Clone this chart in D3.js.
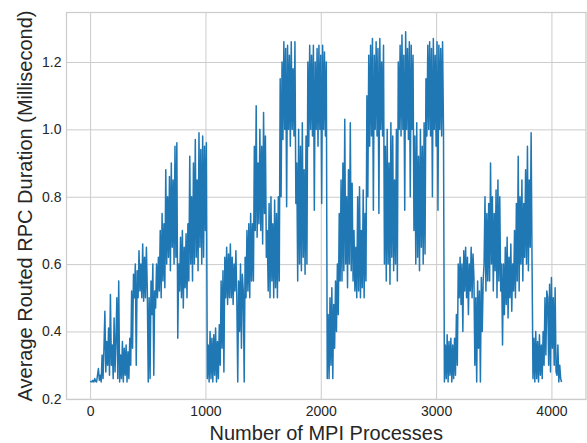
<!DOCTYPE html>
<html>
<head>
<meta charset="utf-8">
<script src="https://cdn.jsdelivr.net/npm/d3@7"></script>
<style>
  body { margin: 0; background: #fff; }
  svg { font-family: "Liberation Sans", Arial, sans-serif; }
</style>
</head>
<body>
<div id="chart"></div>
<script>
// one value every 8 MPI ranks
var rankStep = 8
var durations = [
  0.25,0.252,0.25,0.255,0.25,0.26,0.252,0.25,0.27,0.29,0.255,0.27,0.25,0.33,0.26,0.35,
  0.46,0.28,0.37,0.3,0.41,0.27,0.51,0.3,0.36,0.26,0.44,0.28,0.38,0.5,0.26,0.55,
  0.25,0.33,0.26,0.37,0.25,0.35,0.27,0.36,0.25,0.34,0.26,0.38,0.3,0.52,0.35,0.57,
  0.5,0.6,0.3,0.58,0.5,0.64,0.52,0.6,0.5,0.66,0.49,0.62,0.5,0.65,0.52,0.25,
  0.5,0.26,0.55,0.45,0.6,0.27,0.52,0.47,0.6,0.5,0.62,0.52,0.7,0.5,0.75,0.55,
  0.72,0.53,0.88,0.6,0.8,0.62,0.86,0.58,0.9,0.65,0.85,0.6,0.95,0.62,0.96,0.38,
  0.6,0.52,0.68,0.5,0.7,0.47,0.65,0.53,0.69,0.5,0.72,0.55,0.92,0.6,0.8,0.55,
  0.9,0.6,0.97,0.62,0.85,0.58,0.99,0.65,0.94,0.6,0.98,0.62,0.95,0.7,0.96,0.26,
  0.36,0.25,0.4,0.26,0.38,0.25,0.39,0.27,0.41,0.25,0.37,0.26,0.42,0.3,0.55,0.35,
  0.58,0.28,0.62,0.5,0.65,0.48,0.63,0.5,0.66,0.5,0.62,0.48,0.6,0.52,0.64,0.5,
  0.25,0.55,0.4,0.6,0.35,0.57,0.52,0.25,0.62,0.5,0.7,0.52,0.72,0.5,0.75,0.55,
  0.72,0.55,0.95,0.7,1.07,0.68,0.9,0.72,1.0,0.7,0.95,0.66,1.05,0.75,0.98,0.62,
  0.7,0.52,0.78,0.5,0.8,0.55,0.72,0.5,0.79,0.53,0.75,0.5,0.8,0.55,1.15,0.8,
  1.2,0.97,1.26,1.0,1.24,0.77,1.25,1.0,1.22,0.95,1.26,1.0,1.18,0.98,1.26,0.78,
  0.9,0.55,1.0,0.6,0.95,0.58,1.02,0.62,0.88,0.57,0.98,0.6,1.2,0.95,1.25,1.0,
  1.22,0.98,1.25,0.76,1.2,1.0,1.24,0.95,1.25,1.0,1.22,0.78,1.25,1.0,1.23,0.98,
  1.2,0.26,0.45,0.26,0.5,0.3,0.53,0.26,0.48,0.35,0.55,0.4,0.6,0.45,0.75,0.55,
  0.85,0.55,0.9,0.58,1.03,0.6,0.8,0.53,0.88,0.6,1.02,0.58,0.84,0.55,0.7,0.52,
  0.65,0.5,0.8,0.52,0.83,0.5,0.7,0.53,0.82,0.5,0.75,0.55,1.1,0.8,1.22,0.95,
  1.25,0.98,1.27,0.76,1.22,1.0,1.26,0.98,1.24,0.75,1.27,1.0,1.2,0.98,1.25,0.6,
  0.95,0.55,1.0,0.6,0.9,0.54,1.02,0.62,0.98,0.58,0.85,0.6,1.0,0.55,1.2,1.0,
  1.25,0.98,1.28,1.0,1.22,0.76,1.29,1.0,1.24,0.97,1.26,0.8,1.25,1.0,1.22,0.7,
  0.98,0.6,1.02,0.62,0.92,0.58,1.0,0.65,0.95,0.6,1.02,0.63,1.15,0.98,1.25,1.0,
  1.26,0.98,1.24,0.8,1.27,1.0,1.22,0.95,1.26,0.76,1.25,1.0,1.24,0.98,1.26,1.0,
  0.25,0.36,0.26,0.39,0.25,0.37,0.27,0.38,0.25,0.36,0.26,0.38,0.27,0.45,0.3,0.6,
  0.5,0.62,0.48,0.6,0.4,0.64,0.52,0.65,0.5,0.62,0.45,0.6,0.52,0.65,0.5,0.63,
  0.56,0.3,0.5,0.25,0.55,0.35,0.52,0.25,0.56,0.4,0.55,0.6,0.8,0.52,0.75,0.55,
  0.78,0.55,0.9,0.6,0.8,0.52,0.75,0.58,0.82,0.5,0.85,0.55,0.8,0.52,0.6,0.36,
  0.6,0.45,0.65,0.48,0.68,0.44,0.62,0.5,0.66,0.46,0.6,0.52,0.7,0.5,0.78,0.55,
  0.92,0.52,0.8,0.6,0.85,0.55,0.78,0.62,0.88,0.6,0.95,0.58,0.85,0.65,0.99,0.6,
  0.26,0.38,0.25,0.4,0.26,0.37,0.25,0.39,0.27,0.36,0.26,0.4,0.3,0.5,0.33,0.52,
  0.5,0.3,0.54,0.28,0.56,0.35,0.5,0.3,0.53,0.28,0.27,0.36,0.25,0.3,0.26,0.25
]
var xTicks = [0, 1000, 2000, 3000, 4000]
var yTicks = [0.2, 0.4, 0.6, 0.8, 1.0, 1.2]

var margin = {top: 12.5, right: 1, bottom: 43.5, left: 66.5},
    width = 587 - margin.left - margin.right,
    height = 443 - margin.top - margin.bottom;

var svg = d3.select("#chart")
  .append("svg")
    .attr("width", 587)
    .attr("height", 443)
  .append("g")
    .attr("transform", "translate(" + margin.left + "," + margin.top + ")");

var x = d3.scaleLinear().domain([-204.75, 4299.75]).range([0, width])
var y = d3.scaleLinear().domain([0.198, 1.347]).range([height, 0])

// grid + tick labels (seaborn whitegrid look)
var gx = svg.append("g")
    .attr("transform", "translate(0," + height + ")")
    .call(d3.axisBottom(x).tickValues(xTicks).tickSize(-height).tickPadding(7).tickFormat(d3.format("d")))
var gy = svg.append("g")
    .call(d3.axisLeft(y).tickValues(yTicks).tickSize(-width).tickPadding(5).tickFormat(d3.format(".1f")))

;[gx, gy].forEach(function(g){
  g.select(".domain").remove()
  g.selectAll(".tick line").attr("stroke", "#cccccc").attr("stroke-width", 1)
  g.selectAll(".tick text").attr("fill", "#262626").attr("font-size", "14px")
    .attr("font-family", "'Liberation Sans', Arial, sans-serif")
})

// spines
svg.append("rect")
  .attr("width", width).attr("height", height)
  .attr("fill", "none").attr("stroke", "#cccccc").attr("stroke-width", 1.25)

svg.append("path")
  .datum(durations)
  .attr("fill", "none")
  .attr("stroke", "#1f77b4")
  .attr("stroke-width", 1.5)
  .attr("stroke-linejoin", "round")
  .attr("d", d3.line()
    .x(function(d, i) { return x(i * rankStep) })
    .y(function(d) { return y(d) }))

svg.append("text")
  .attr("x", width / 2)
  .attr("y", height + 40)
  .attr("text-anchor", "middle")
  .attr("font-size", "20px")
  .attr("fill", "#262626")
  .text("Number of MPI Processes")

svg.append("text")
  .attr("transform", "translate(" + (-34.5) + "," + (height / 2) + ") rotate(-90)")
  .attr("text-anchor", "middle")
  .attr("font-size", "20px")
  .attr("fill", "#262626")
  .text("Average Routed RPC Duration (Millisecond)")
</script>
</body>
</html>
